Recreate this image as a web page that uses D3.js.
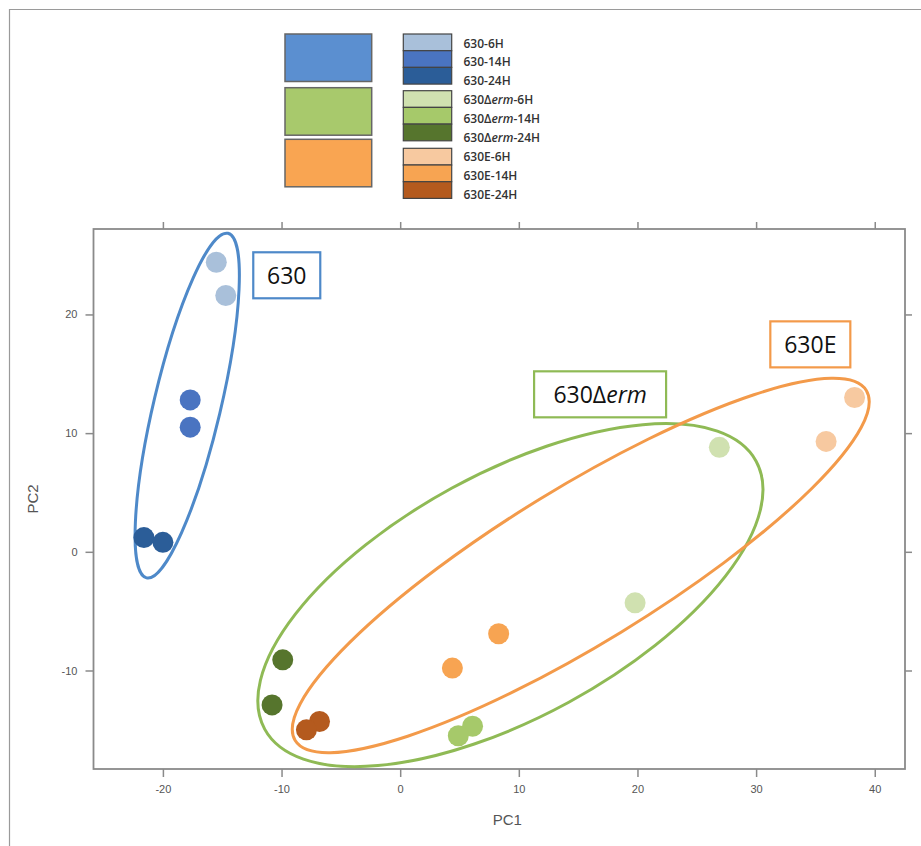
<!DOCTYPE html>
<html><head><meta charset="utf-8">
<script src="https://cdn.jsdelivr.net/npm/d3@7"></script>
<style>body{margin:0;background:#fff}</style>
</head><body>
<svg id="c" width="921" height="846"></svg>
<script>
// ---- data ----
const seriesNames = ["630-6H","630-14H","630-24H","630Δerm-6H","630Δerm-14H","630Δerm-24H","630E-6H","630E-14H","630E-24H"];
const seriesColors = ["#a9c0da","#4a74c1","#2b5d98","#d0e1b0","#a6c96a","#56752d","#f7c9a0","#f7a452","#b45a1e"];
const pc1Values = [[-15.5,-14.7],[-17.7,-17.7],[-21.6,-20.0],[26.9,19.8],[6.1,4.9],[-9.9,-10.8],[38.3,35.9],[4.4,8.3],[-6.8,-7.9]];
const pc2Values = [[24.4,21.6],[12.8,10.5],[1.2,0.8],[8.8,-4.3],[-14.7,-15.5],[-9.1,-12.9],[13.0,9.3],[-9.8,-6.9],[-14.3,-15.0]];
const groupNames = ["630","630Δerm","630E"];
const groupColors = ["#5b8fd0","#a8c96c","#f9a552"];
const groupStroke = ["#4e89c9","#8fba55","#f39a4a"];
const ellipseCenterPC1 = [-17.95, 9.29, 15.22];
const ellipseCenterPC2 = [12.32, -3.65, -1.15];
const ellipseSemiMajor = [14.92, 23.59, 28.23];
const ellipseSemiMinor = [2.82, 10.28, 6.57];
const ellipseAngle = [76.7, 28.6, 31.5];
const labelPC1 = [-9.56, 16.85, 34.57];
const labelPC2 = [23.30, 13.27, 17.48];
const xTicks = [-20,-10,0,10,20,30,40];
const yTicks = [-10,0,10,20];

// ---- layout ----
const svg = d3.select("#c");
const plot = {left:93.5, right:905, top:229, bottom:769};
const x = d3.scaleLinear().domain([-25.85, 42.55]).range([plot.left, plot.right]);
const y = d3.scaleLinear().domain([-18.3, 27.2]).range([plot.bottom, plot.top]);
const fmt = d => String(d);

// outer frame
svg.append("path").attr("d","M9.5,846 V9.5 H921").attr("fill","none").attr("stroke","#9a9a9a").attr("stroke-width",1.2);

// axes
const axisColor = "#8a8a8a";
function styleAxis(g){
  g.select(".domain").remove();
  g.selectAll(".tick line").attr("stroke",axisColor).attr("stroke-width",1.5);
  g.selectAll(".tick text").attr("fill","#555").style("font-family","Liberation Sans, Arial, sans-serif").style("font-size","11px");
}
svg.append("g").attr("transform",`translate(0,${plot.bottom})`)
  .call(d3.axisBottom(x).tickValues(xTicks).tickFormat(fmt).tickSize(8).tickPadding(8)).call(styleAxis);
svg.append("g").attr("transform",`translate(0,${plot.top})`)
  .call(d3.axisTop(x).tickValues(xTicks).tickFormat("").tickSize(7)).call(styleAxis);
svg.append("g").attr("transform",`translate(${plot.left},0)`)
  .call(d3.axisLeft(y).tickValues(yTicks).tickFormat(fmt).tickSize(8).tickPadding(8)).call(styleAxis);
svg.append("g").attr("transform",`translate(${plot.right},0)`)
  .call(d3.axisRight(y).tickValues(yTicks).tickFormat("").tickSize(7)).call(styleAxis);
svg.append("rect").attr("x",plot.left).attr("y",plot.top)
  .attr("width",plot.right-plot.left).attr("height",plot.bottom-plot.top)
  .attr("fill","none").attr("stroke",axisColor).attr("stroke-width",1.8);

svg.append("text").attr("x",(plot.left+plot.right)/2+8).attr("y",825).attr("text-anchor","middle")
  .style("font-family","Liberation Sans, Arial, sans-serif").style("font-size","15px").attr("fill","#555").text("PC1");
svg.append("text").attr("transform",`translate(38,${(plot.top+plot.bottom)/2}) rotate(-90)`).attr("text-anchor","middle")
  .style("font-family","Liberation Sans, Arial, sans-serif").style("font-size","15px").attr("fill","#555").text("PC2");

// ellipses
const pxPerUnitX = x(1)-x(0), pxPerUnitY = y(0)-y(1);
[1,2,0].forEach(i=>{
  const cx = x(ellipseCenterPC1[i]), cy = y(ellipseCenterPC2[i]);
  svg.append("ellipse").attr("cx",cx).attr("cy",cy)
    .attr("rx",ellipseSemiMajor[i]*pxPerUnitX).attr("ry",ellipseSemiMinor[i]*pxPerUnitY)
    .attr("transform",`rotate(${-ellipseAngle[i]},${cx},${cy})`)
    .attr("fill","none").attr("stroke",groupStroke[i]).attr("stroke-width",3);
});

// points
const pts = [];
seriesNames.forEach((s,i)=>pc1Values[i].forEach((v,j)=>pts.push({s:i,pc1:v,pc2:pc2Values[i][j]})));
svg.append("g").selectAll("circle").data(pts).join("circle")
  .attr("cx",d=>x(d.pc1)).attr("cy",d=>y(d.pc2)).attr("r",10.5)
  .attr("fill",d=>seriesColors[d.s]);

// group labels
const boxW = [67,132,80], boxH = 46;
groupNames.forEach((n,i)=>{
  const cx = x(labelPC1[i]), cy = y(labelPC2[i]);
  svg.append("rect").attr("x",cx-boxW[i]/2).attr("y",cy-boxH/2).attr("width",boxW[i]).attr("height",boxH)
    .attr("fill","#fff").attr("stroke",groupStroke[i]).attr("stroke-width",2.2);
  const t = svg.append("text").attr("x",cx).attr("y",cy+8.5).attr("text-anchor","middle")
    .style("font-family","Open Sans, Noto Sans, sans-serif").style("font-size","23px").attr("fill","#111");
  if(n.includes("Δ")){
    t.append("tspan").text("630Δ");
    t.append("tspan").style("font-style","italic").text("erm");
  } else t.text(n);
});

// legend
const bigY = [34,87.7,139.3];
groupNames.forEach((n,i)=>{
  svg.append("rect").attr("x",285).attr("y",bigY[i]).attr("width",86.7).attr("height",47.5)
    .attr("fill",groupColors[i]).attr("stroke","#666").attr("stroke-width",1.5);
});
const swTop = [34,90.7,148.3], rowH = 16.7;
seriesNames.forEach((s,i)=>{
  const g = Math.floor(i/3), r = i%3;
  svg.append("rect").attr("x",403.3).attr("y",swTop[g]+r*rowH).attr("width",48.4).attr("height",rowH)
    .attr("fill",seriesColors[i]).attr("stroke","#444").attr("stroke-width",1.2);
  const t = svg.append("text").attr("x",463.5).attr("y",43.3+i*18.9+4.2)
    .style("font-family","Open Sans, Noto Sans, sans-serif").style("font-size","12px").style("font-weight","600").attr("fill","#333");
  if(s.includes("Δ")){
    const parts = s.split("erm");
    t.append("tspan").text(parts[0]);
    t.append("tspan").style("font-style","italic").text("erm");
    t.append("tspan").text(parts[1]);
  } else t.text(s);
});
</script>
</body></html>
